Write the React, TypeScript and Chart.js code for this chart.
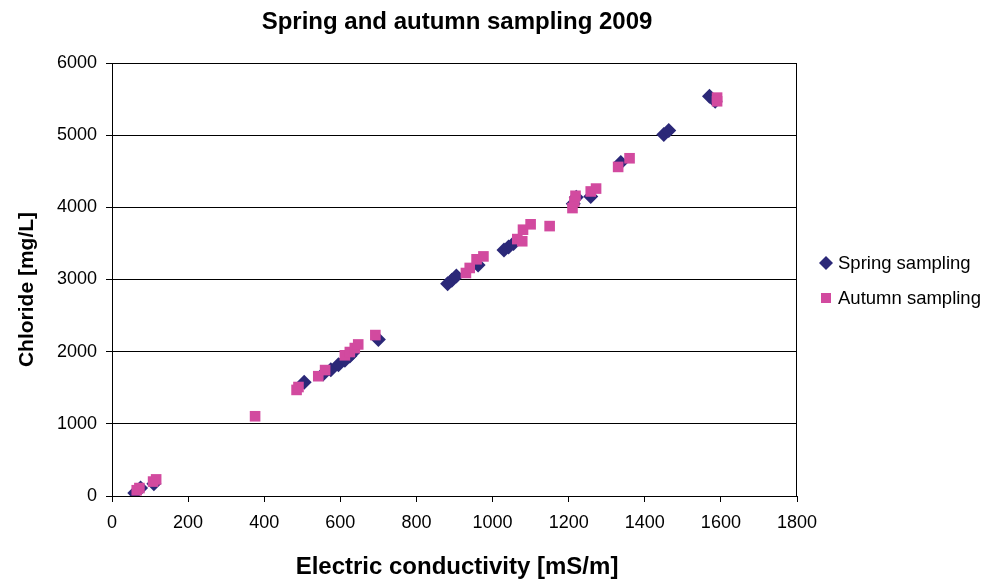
import React, { useEffect, useRef } from "react";
import { Chart, registerables } from "chart.js";

Chart.register(...registerables);

const chartTitle = "Spring and autumn sampling 2009";
const xAxisTitle = "Electric conductivity [mS/m]";
const yAxisTitle = "Chloride [mg/L]";
const springLabel = "Spring sampling";
const autumnLabel = "Autumn sampling";

const springX = [60, 75, 110, 505, 555, 575, 595, 612, 625, 632, 700, 882, 893, 905, 962, 1030, 1042, 1055, 1212, 1220, 1258, 1337, 1450, 1463, 1570, 1585];
const springY = [40, 110, 170, 1575, 1690, 1750, 1820, 1880, 1940, 1980, 2170, 2940, 2990, 3050, 3200, 3410, 3450, 3500, 4050, 4140, 4150, 4620, 5010, 5065, 5540, 5470];

const autumnX = [65, 72, 108, 116, 376, 485, 490, 542, 560, 612, 625, 638, 647, 692, 930, 940, 958, 976, 1065, 1078, 1080, 1100, 1150, 1210, 1215, 1218, 1258, 1272, 1330, 1360, 1590, 1590];
const autumnY = [80, 110, 200, 230, 1105, 1470, 1510, 1660, 1745, 1950, 1995, 2050, 2100, 2230, 3090, 3160, 3280, 3320, 3560, 3530, 3690, 3765, 3740, 3990, 4080, 4160, 4220, 4260, 4560, 4680, 5520, 5470];

const xMin = 0, xMax = 1800, xStep = 200;
const yMin = 0, yMax = 6000, yStep = 1000;

const springColor = "#2B2878";
const autumnColor = "#D24A9F";
const FONT = "'Liberation Sans', Arial, sans-serif";

const toPoints = (xs: number[], ys: number[]) => xs.map((x, i) => ({ x, y: ys[i] }));

export default function App() {
  const ref = useRef<HTMLCanvasElement | null>(null);

  useEffect(() => {
    document.body.style.margin = "0";
    const canvas = ref.current;
    if (!canvas) return;

    const decor = {
      id: "decor",
      afterDraw(chart: any) {
        const { ctx, chartArea } = chart;
        const { left, right, top, bottom } = chartArea;
        ctx.save();
        ctx.strokeStyle = "#000";
        ctx.lineWidth = 1;
        ctx.strokeRect(left + 0.5, top + 0.5, right - left - 1, bottom - top);
        ctx.fillStyle = "#000";
        ctx.textAlign = "center";
        ctx.textBaseline = "middle";
        ctx.font = `bold 24px ${FONT}`;
        ctx.fillText(chartTitle, 457, 22);
        ctx.font = `bold 24px ${FONT}`;
        ctx.fillText(xAxisTitle, 457, 567);
        ctx.save();
        ctx.translate(27, (top + bottom) / 2 + 10);
        ctx.rotate(-Math.PI / 2);
        ctx.font = `bold 21px ${FONT}`;
        ctx.fillText(yAxisTitle, 0, 0);
        ctx.restore();
        ctx.textAlign = "left";
        ctx.font = `18.5px ${FONT}`;
        const lx = 826;
        ctx.fillStyle = springColor;
        ctx.beginPath();
        ctx.moveTo(lx, 263 - 7);
        ctx.lineTo(lx + 7, 263);
        ctx.lineTo(lx, 263 + 7);
        ctx.lineTo(lx - 7, 263);
        ctx.closePath();
        ctx.fill();
        ctx.fillStyle = autumnColor;
        ctx.fillRect(lx - 5, 298 - 5, 10, 10);
        ctx.fillStyle = "#000";
        ctx.fillText(springLabel, 838, 264);
        ctx.fillText(autumnLabel, 838, 299);
        ctx.restore();
      },
    };

    const chart = new Chart(canvas, {
      type: "scatter",
      data: {
        datasets: [
          {
            label: springLabel,
            data: toPoints(springX, springY),
            pointStyle: "rectRot",
            pointRadius: 7.5,
            pointHoverRadius: 7.5,
            backgroundColor: springColor,
            borderColor: springColor,
            borderWidth: 0,
            order: 1,
          },
          {
            label: autumnLabel,
            data: toPoints(autumnX, autumnY),
            pointStyle: "rect",
            pointRadius: 7.5,
            pointHoverRadius: 7.5,
            backgroundColor: autumnColor,
            borderColor: autumnColor,
            borderWidth: 0,
            order: 0,
          },
        ],
      },
      options: {
        responsive: false,
        animation: false,
        layout: { padding: { top: 63, right: 187, left: 0, bottom: 0 } },
        plugins: {
          legend: { display: false },
          title: { display: false },
          tooltip: { enabled: false },
        },
        scales: {
          x: {
            type: "linear",
            min: xMin,
            max: xMax,
            ticks: {
              stepSize: xStep,
              color: "#000",
              font: { family: FONT, size: 18 },
              padding: 10,
              maxRotation: 0,
              callback: (v: any) => String(v),
            },
            grid: {
              drawOnChartArea: false,
              drawTicks: true,
              tickLength: 6,
              color: "#000",
            },
            border: { display: true, color: "#000" },
            afterFit: (scale: any) => {
              scale.height = 84;
            },
          },
          y: {
            type: "linear",
            min: yMin,
            max: yMax,
            ticks: {
              stepSize: yStep,
              color: "#000",
              font: { family: FONT, size: 18 },
              padding: 9,
              callback: (v: any) => String(v),
            },
            grid: {
              drawOnChartArea: true,
              drawTicks: true,
              tickLength: 6,
              color: "#000",
            },
            border: { display: true, color: "#000" },
            afterFit: (scale: any) => {
              scale.width = 112;
            },
          },
        },
      },
      plugins: [decor],
    } as any);

    return () => chart.destroy();
  }, []);

  return (
    <div style={{ position: "absolute", left: 0, top: 0, width: 984, height: 580, background: "#fff" }}>
      <canvas ref={ref} width={984} height={580} style={{ width: 984, height: 580, display: "block" }} />
    </div>
  );
}
